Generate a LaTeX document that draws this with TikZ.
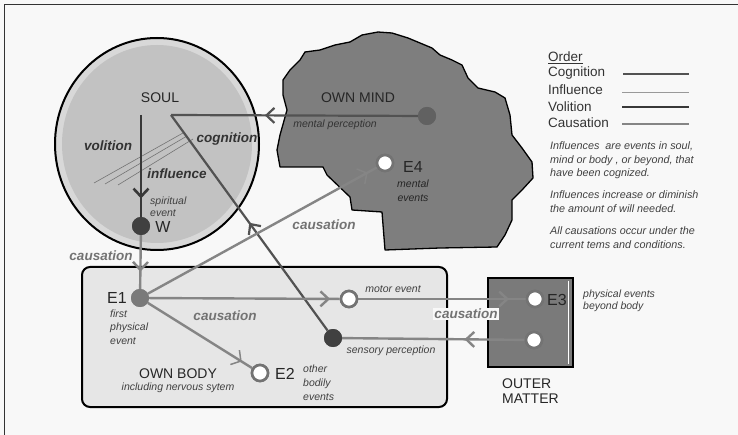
\documentclass[tikz,border=0pt]{standalone}
\usepackage{fontspec}
\setmainfont{Liberation Sans}
\usetikzlibrary{arrows.meta,decorations.markings}
\definecolor{bg}{HTML}{F8F8F8}
\definecolor{soulrim}{HTML}{D8D8D8}
\definecolor{soulfill}{HTML}{C2C2C2}
\definecolor{mindfill}{HTML}{7E7E7E}
\definecolor{bodyfill}{HTML}{E6E6E6}
\definecolor{outerfill}{HTML}{7A7A7A}
\begin{document}
\begin{tikzpicture}[x=1pt,y=-1pt,
  lab/.style={inner sep=0pt, text=black!85},
  capsf/.style={lab, font=\fontsize{14}{15}\selectfont},
  efont/.style={lab, font=\fontsize{16}{18}\selectfont},
  note/.style={lab, font=\fontsize{10.5}{13.5}\selectfont\itshape, text=black!75, align=left},
  bilab/.style={lab, font=\fontsize{13.5}{15}\selectfont\bfseries\itshape, text=black!80},
  caulab/.style={bilab, text=black!55},
  legtxt/.style={lab, font=\fontsize{13.5}{15}\selectfont, text=black!80, anchor=west},
  fulldot/.style={circle, inner sep=0pt, minimum size=18pt},
  ringdot/.style={circle, inner sep=0pt, minimum size=16pt, fill=white, draw=black!55, line width=2.6pt},
  cogline/.style={draw=black!68, line width=2.2pt},
  volline/.style={draw=black!78, line width=2.6pt},
  cauline/.style={draw=black!48, line width=2.4pt},
  infline/.style={draw=black!55, line width=0.6pt},
  midarr/.style={postaction={decorate}, decoration={markings, mark=at position #1 with {\arrow{Straight Barb[length=8pt,width=15pt]}}}},
  featharr/.style={postaction={decorate}, decoration={markings, mark=at position #1 with {\arrow{Straight Barb[length=7pt,width=17pt,line width=1.5pt]}}}},
]
\useasboundingbox (0,0) rectangle (738,435);
\fill[bg] (0,0) rectangle (738,435);
\draw[line width=1.5pt, black!80] (4.5,435) -- (4.5,4.5) -- (738,4.5);

% SOUL
\fill[soulrim] (157,144) ellipse [x radius=102, y radius=106];
\fill[soulfill] (157,144) ellipse [x radius=95, y radius=99];
\draw[line width=2pt, black] (157,144) ellipse [x radius=102, y radius=106];

% OWN MIND cloud
\draw[fill=mindfill, line width=1.3pt, line join=round]
 (283,80) -- (290,70) -- (300,60) -- (305,52) -- (320,50) -- (335,45) -- (350,42)
 -- (362,35) -- (378,32) -- (392,33) -- (408,38) -- (420,43) -- (432,48) -- (440,55)
 -- (452,60) -- (462,65) -- (468,78) -- (478,88) -- (495,92) -- (505,98) -- (510,115)
 -- (512,135) -- (522,148) -- (532,162) -- (533,178) -- (522,190) -- (512,200)
 -- (512,220) -- (505,235) -- (497,247) -- (440,248) -- (385,250) -- (382,212)
 -- (352,210) -- (350,197) -- (327,175) -- (323,167) -- (280,167) -- (277,150)
 -- (280,135) -- (287,110) -- (283,95) -- cycle;

% OWN BODY box
\draw[fill=bodyfill, line width=2pt, rounded corners=8pt] (82,267) rectangle (447,407);

% OUTER MATTER box
\draw[fill=outerfill, line width=2.5pt] (488,278) rectangle (573,367);
\draw[white, line width=1.8pt] (568.5,281) -- (568.5,364);

% dots
\node[fulldot, fill=black!62] (md) at (427,116) {};
\node[fulldot, fill=black!75] (W) at (141,226) {};
\node[fulldot, fill=black!52] (E1) at (140,298) {};
\node[fulldot, fill=black!75] (sp) at (333,338) {};
\node[ringdot] (E4) at (385,163) {};
\node[ringdot] (mo) at (349,299) {};
\node[ringdot] (E3) at (535,299) {};
\node[ringdot] (om) at (534,340) {};
\node[ringdot] (E2) at (260,373) {};
\coordinate (sc) at (171,115);
\coordinate (vs) at (141,115);

% influence lines
\draw[infline] (94,183) -- (183,133);
\draw[infline] (105,184) -- (187,136);
\draw[infline] (118,185) -- (193,139);

% connectors
\draw[cogline, midarr=0.62] (md) -- (sc);
\draw[cogline, midarr=0.5] (sp) -- (sc);
\draw[volline, midarr=0.82] (vs) -- (W);
\draw[cauline, midarr=0.68] (W) -- (E1);
\draw[cauline, featharr=0.96] (E1) -- (E4);
\draw[cauline, midarr=0.95] (E1) -- (mo);
\draw[cauline, midarr=0.9] (mo) -- (E3);
\draw[cauline, midarr=0.33] (om) -- (sp);
\draw[cauline, featharr=0.9] (E1) -- (E2);

% redraw dots on top
\node[fulldot, fill=black!62] at (md) {};
\node[fulldot, fill=black!75] at (W) {};
\node[fulldot, fill=black!52] at (E1) {};
\node[fulldot, fill=black!75] at (sp) {};
\node[ringdot] at (E4) {};
\node[ringdot] at (mo) {};
\node[ringdot] at (E3) {};
\node[ringdot] at (om) {};
\node[ringdot] at (E2) {};

% labels
\node[capsf] (tsoul) at (160,98) {SOUL};
\node[capsf] (tmind) at (358,98) {OWN MIND};
\node[bilab] (tvol) at (108,146) {volition};
\node[bilab] (tcog) at (227,139) {cognition};
\node[bilab] (tinf) at (177,174) {influence};
\node[note, text=black!80] (tmp) at (335,125) {mental perception};
\node[note, anchor=north west, font=\fontsize{10.5}{12}\selectfont\itshape] (tspir) at (150,196.5) {spiritual\\event};
\node[efont] (tW) at (163,227) {W};
\node[efont] (tE4) at (413,167) {E4};
\node[note, anchor=north, align=center, font=\fontsize{10.5}{14}\selectfont\itshape, text=black!85] (tme) at (413,179.5) {mental\\events};
\node[caulab] (tc1) at (324,225) {causation};
\node[caulab] (tc2) at (101,256) {causation};
\node[efont] (tE1) at (117,298) {E1};
\node[note, anchor=north west] (tfpe) at (110,309.5) {first\\physical\\event};
\node[caulab] (tc3) at (225,316) {causation};
\node[note] (tmot) at (393,289) {motor event};
\node[caulab, fill=bg, inner sep=1pt] (tc4) at (466,314) {causation};
\node[efont] (tE3) at (557,300) {E3};
\node[note, anchor=north west, font=\fontsize{10.5}{12}\selectfont\itshape] (tpeb) at (583,289.5) {physical events\\beyond body};
\node[note] (tsp) at (391,351) {sensory perception};
\node[capsf] (tbody) at (178,374) {OWN BODY};
\node[note] (tnerv) at (178,388) {including nervous sytem};
\node[efont] (tE2) at (285,374) {E2};
\node[note, anchor=north west, font=\fontsize{10.5}{14}\selectfont\itshape] (tobe) at (303,364.5) {other\\bodily\\events};
\node[capsf, anchor=north west, align=left] (tout) at (502,379) {OUTER\\MATTER};

% legend
\node[legtxt] (lord) at (548,58) {\underline{Order}};
\node[legtxt] (lcog) at (548,73) {Cognition};
\node[legtxt] (linf) at (548,90) {Influence};
\node[legtxt] (lvol) at (548,107) {Volition};
\node[legtxt] (lcau) at (548,123) {Causation};
\draw[cogline] (623,74) -- (689,74);
\draw[infline, draw=black!40] (622,92) -- (689,92);
\draw[volline] (622,107) -- (689,107);
\draw[cauline] (622,124) -- (689,124);
\node[note, anchor=north west, font=\fontsize{10.8}{13.5}\selectfont\itshape] (p1) at (550,141.5) {Influences\ \ are events in soul,\\mind or body , or beyond, that\\have been cognized.};
\node[note, anchor=north west, font=\fontsize{10.8}{13.5}\selectfont\itshape] (p2) at (550,190.5) {Influences increase or diminish\\the amount of will needed.};
\node[note, anchor=north west, font=\fontsize{10.8}{13.5}\selectfont\itshape] (p3) at (550,226.5) {All causations occur under the\\current tems and conditions.};
\end{tikzpicture}
\end{document}
